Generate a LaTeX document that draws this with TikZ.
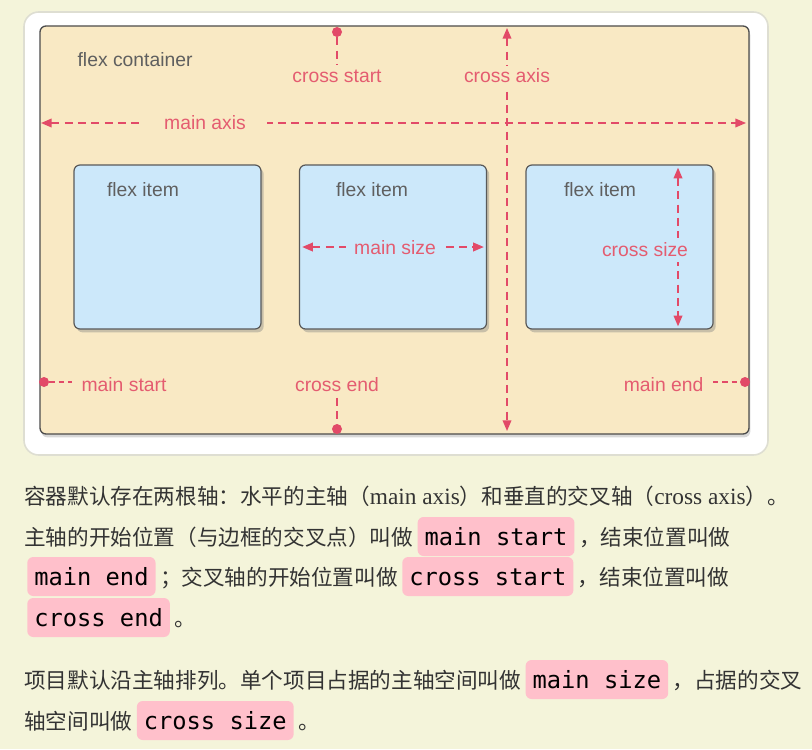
\documentclass[tikz,border=0pt]{standalone}
\usepackage{fontspec}
\setmainfont{Liberation Serif}
\setsansfont{Liberation Sans}
\setmonofont{DejaVu Sans Mono}
\newfontfamily\cjk{Noto Sans CJK SC}
\usetikzlibrary{arrows.meta,shadows}
\definecolor{pageBg}{RGB}{244,244,218}
\definecolor{frameGrey}{RGB}{222,222,210}
\definecolor{boxTan}{RGB}{249,233,196}
\definecolor{itemBlue}{RGB}{204,232,250}
\definecolor{axisPink}{RGB}{226,74,104}
\definecolor{labelPink}{RGB}{228,92,112}
\definecolor{codePink}{RGB}{255,192,203}
\definecolor{labelGrey}{RGB}{95,95,95}
\newcommand{\flexLatin}[1]{{\rmfamily\fontsize{17.5}{20}\selectfont #1}}
\tikzset{
  axisline/.style={draw=axisPink, line width=1.1pt, dash pattern=on 6pt off 4pt},
  bothtips/.style={{Triangle[length=8pt,width=6.5pt]}-{Triangle[length=8pt,width=6.5pt]}},
  enddot/.style={circle, fill=axisPink, inner sep=0pt, minimum size=7.5pt},
  axislabel/.style={text=labelPink, font=\sffamily\fontsize{14.5}{16}\selectfont, inner sep=1pt},
  flexlabel/.style={text=labelGrey, font=\sffamily\fontsize{14.5}{16}\selectfont, inner sep=1pt},
  containerbox/.style={draw=black!70, fill=boxTan, rounded corners=4.5pt, line width=1pt,
    drop shadow={shadow xshift=1pt, shadow yshift=-2.5pt, opacity=0.3}},
  itembox/.style={draw=black!65, fill=itemBlue, rounded corners=4.5pt, line width=0.9pt,
    minimum width=140.25pt, minimum height=123pt, outer sep=0pt,
    drop shadow={shadow xshift=2pt, shadow yshift=-2.5pt, opacity=0.4}},
  codebox/.style={fill=codePink, rounded corners=4.5pt, anchor=base west,
    font=\ttfamily\fontsize{17.8}{20}\selectfont, text=black,
    text height=16pt, text depth=3.25pt, inner xsep=5.25pt, inner ysep=5pt},
  cntext/.style={font=\cjk\fontsize{16.2}{20}\selectfont, text=black!80, inner sep=0pt, anchor=base west},
}
\begin{document}
\begin{tikzpicture}[x=0.75pt, y=-0.75pt]
% page background, same size as the screenshot
\providecommand{\flexGap}{3pt}
\fill[pageBg] (0,0) rectangle (812,749);
\useasboundingbox (0,0) rectangle (812,749);
% white frame round the figure
\draw[draw=frameGrey, fill=white, line width=1.2pt, rounded corners=11pt] (24,12) rectangle (768,455);
% flex container
\node[containerbox, minimum width=531.75pt, minimum height=306pt] (container) at (394.5,230) {};
\node[flexlabel, anchor=west] (ctitle) at (76,60) {flex container};
% main axis and cross axis
\coordinate (mainL) at (41,123);
\coordinate (mainR) at (746,123);
\coordinate (crossT) at (507,28);
\coordinate (crossB) at (507,431);
\draw[axisline, bothtips] (mainL) -- (mainR);
\draw[axisline, bothtips] (crossT) -- (crossB);
\node[axislabel, fill=boxTan, inner xsep=16pt] (mainaxis) at (205,123) {main axis};
\node[axislabel, fill=boxTan, inner ysep=2pt] (crossaxis) at (507,76) {cross axis};
% flex items
\node[itembox] (item1) at (167.5,247) {};
\node[itembox] (item2) at (393,247) {};
\node[itembox] (item3) at (619.5,247) {};
\node[flexlabel] (title1) at (143,190) {flex item};
\node[flexlabel] (title2) at (372,190) {flex item};
\node[flexlabel] (title3) at (600,190) {flex item};
% main size and cross size
\draw[axisline, bothtips] ([xshift=2pt]item2.west) -- ([xshift=-2pt]item2.east);
\node[axislabel, fill=itemBlue, inner xsep=6pt] (msize) at (395,248) {main size};
\draw[axisline, bothtips] ([xshift=-26.25pt,yshift=-2pt]item3.north east) -- ([xshift=-26.25pt,yshift=2pt]item3.south east);
\node[axislabel, fill=itemBlue, inner ysep=4pt] (csize) at (645,250) {cross size};
% start and end points
\node[enddot] (csdot) at (337,32) {};
\node[axislabel] (cstart) at (337,76) {cross start};
\draw[axisline, shorten >=3pt] (csdot) -- (cstart);
\node[enddot] (cedot) at (337,429) {};
\node[axislabel] (cend) at (337,385) {cross end};
\draw[axisline, shorten <=3pt] (cend) -- (cedot);
\node[enddot] (msdot) at (44,382) {};
\node[axislabel, anchor=west] (mstart) at (80,385) {main start};
\draw[axisline, dash pattern=on 4pt off 3pt, shorten >=6pt] (msdot) -- (msdot -| mstart.west);
\node[enddot] (medot) at (745,382) {};
\node[axislabel, anchor=east] (mend) at (705,385) {main end};
\draw[axisline, dash pattern=on 4pt off 3pt, shorten <=6pt] (mend.east |- medot) -- (medot);
% paragraph under the figure
\node[cntext] (l1) at (24,504) {容器默认存在两根轴：水平的主轴（\flexLatin{main axis}）和垂直的交叉轴（\flexLatin{cross axis}）。};
\node[cntext] (l2a) at (24,545) {主轴的开始位置（与边框的交叉点）叫做};
\node[codebox] (mstartcode) at ([xshift=\flexGap]l2a.base east) {main start};
\node[cntext] (l2b) at ([xshift=\flexGap]mstartcode.base east) {，结束位置叫做};
\node[codebox] (mendcode) at (27,585) {main end};
\node[cntext] (l3a) at ([xshift=\flexGap]mendcode.base east) {；交叉轴的开始位置叫做};
\node[codebox] (cstartcode) at ([xshift=\flexGap]l3a.base east) {cross start};
\node[cntext] (l3b) at ([xshift=\flexGap]cstartcode.base east) {，结束位置叫做};
\node[codebox] (cendcode) at (27,626) {cross end};
\node[cntext] (l4a) at ([xshift=\flexGap]cendcode.base east) {。};
\node[cntext] (l5a) at (24,688) {项目默认沿主轴排列。单个项目占据的主轴空间叫做};
\node[codebox] (msizecode) at ([xshift=\flexGap]l5a.base east) {main size};
\node[cntext] (l5b) at ([xshift=\flexGap]msizecode.base east) {，占据的交叉};
\node[cntext] (l6a) at (24,729) {轴空间叫做};
\node[codebox] (csizecode) at ([xshift=\flexGap]l6a.base east) {cross size};
\node[cntext] (l6b) at ([xshift=\flexGap]csizecode.base east) {。};
\end{tikzpicture}
\end{document}
